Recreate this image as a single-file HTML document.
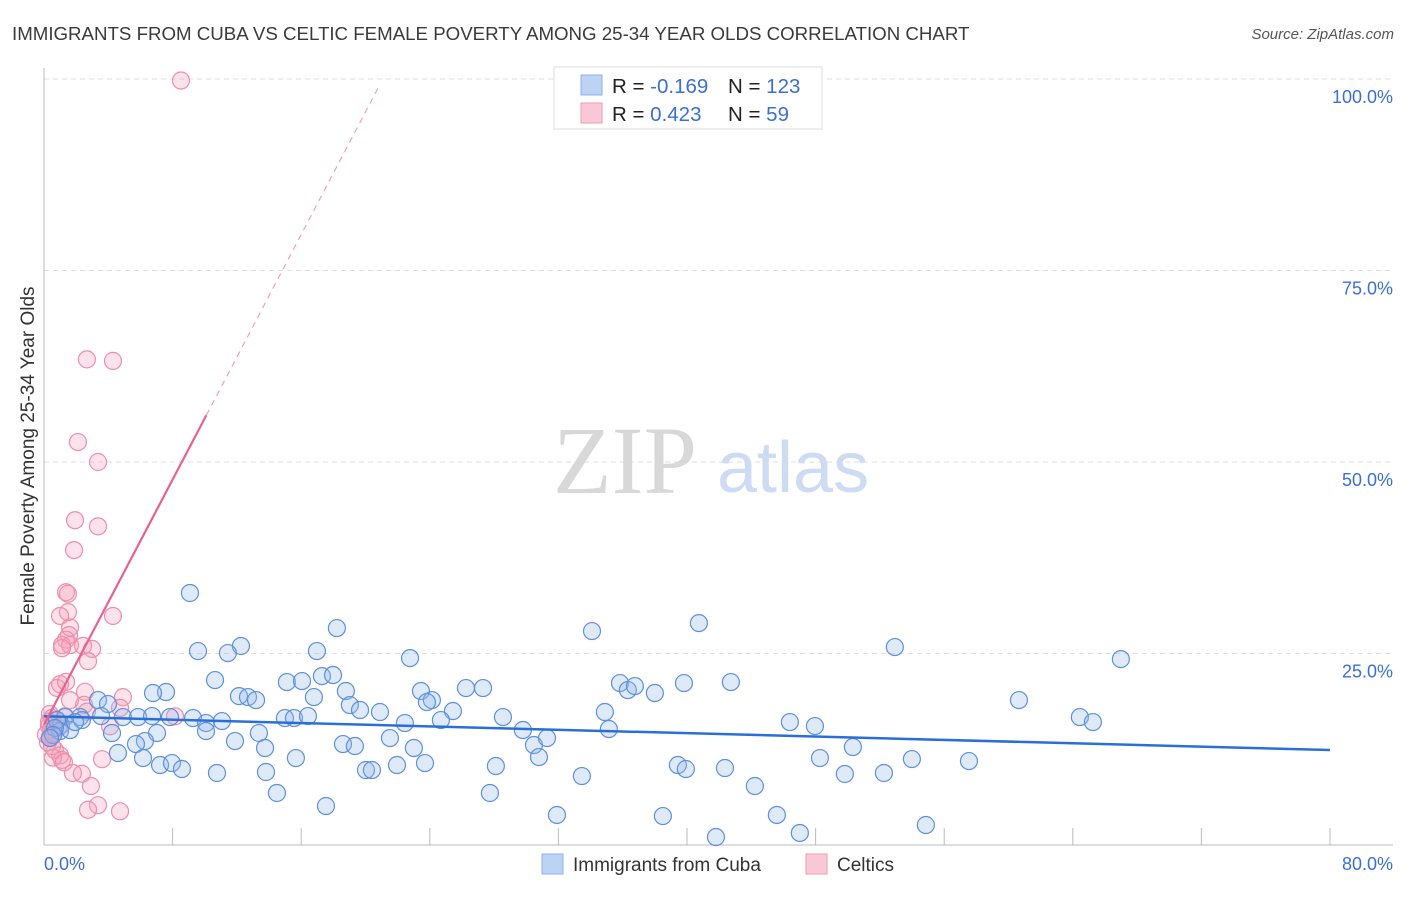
<!DOCTYPE html>
<html><head><meta charset="utf-8"><style>
body{margin:0;background:#fff;font-family:"Liberation Sans",sans-serif}
</style></head><body>
<svg width="1406" height="892" xmlns="http://www.w3.org/2000/svg" style="font-family:'Liberation Sans',sans-serif">
<text x="12" y="40" font-size="18.7" fill="#3a3a3a">IMMIGRANTS FROM CUBA VS CELTIC FEMALE POVERTY AMONG 25-34 YEAR OLDS CORRELATION CHART</text>
<text x="1394" y="39" font-size="15" fill="#555" font-style="italic" text-anchor="end">Source: ZipAtlas.com</text>
<g id="grid"></g>
<g>
<text x="553" y="493" font-size="96" font-family="'Liberation Serif',serif" fill="#d8d8d8">ZIP</text>
<text x="717" y="492" font-size="72" fill="#cddcf2">atlas</text>
</g>
<line x1="44" y1="68" x2="44" y2="845" stroke="#bbb"/>
<line x1="44" y1="845" x2="1393" y2="845" stroke="#bbb"/>
<g id="ticks"></g>
<g id="pts"></g>
<g id="trend"></g>
<text x="28" y="462" font-size="19" fill="#333" text-anchor="middle" transform="rotate(-90 28 456)">Female Poverty Among 25-34 Year Olds</text>
<text x="44" y="870" font-size="18" fill="#3b6fd4">0.0%</text>
<text x="1393" y="870" font-size="18" fill="#3b6fd4" text-anchor="end">80.0%</text>
<g>
<rect x="554" y="67" width="268" height="62" fill="#fff" stroke="#ddd"/>
<rect x="581" y="75" width="21" height="20" fill="#bcd3f5" stroke="#8fb2e8"/>
<rect x="581" y="103" width="21" height="20" fill="#fac8d6" stroke="#ef9bb5"/>
<text x="612" y="93" font-size="20.5" fill="#222">R = <tspan fill="#3b6fd4">-0.169</tspan></text>
<text x="728" y="93" font-size="20.5" fill="#222">N = <tspan fill="#3b6fd4">123</tspan></text>
<text x="612" y="121" font-size="20.5" fill="#222">R = <tspan fill="#3b6fd4"> 0.423</tspan></text>
<text x="728" y="121" font-size="20.5" fill="#222">N = <tspan fill="#3b6fd4"> 59</tspan></text>
</g>
<g>
<rect x="542" y="854" width="21" height="20" fill="#bcd3f5" stroke="#8fb2e8"/>
<text x="573" y="871" font-size="19" fill="#333">Immigrants from Cuba</text>
</g>
<g>
<rect x="806" y="854" width="21" height="20" fill="#fac8d6" stroke="#ef9bb5"/>
<text x="837" y="871" font-size="19" fill="#333">Celtics</text>
</g>
</svg>
<script>
const yTicks=[25,50,75,100];
const yTickLabels=["25.0%","50.0%","75.0%","100.0%"];
const xTicks=[0,8,16,24,32,40,48,56,64,72,80];
const cubaX=[9.08,12.25,18.22,34.09,40.74,52.93,66.99,9.58,11.44,16.98,22.77,10.64,7.59,6.78,12.13,12.69,13.19,15.11,16.05,17.29,17.98,16.79,18.78,19.03,19.66,20.90,23.45,24.13,23.82,26.25,27.31,25.44,22.45,24.69,28.55,29.79,30.48,31.29,30.79,33.46,31.91,34.89,35.14,35.83,36.32,36.76,38.00,39.81,42.73,39.43,39.93,42.36,44.22,38.50,41.80,45.59,47.02,46.40,47.96,48.27,49.82,50.32,52.25,53.99,54.86,57.54,60.65,64.44,65.25,3.36,3.98,4.91,5.85,6.72,7.03,4.23,2.24,2.36,3.55,1.31,1.06,1.00,1.62,6.28,5.72,4.60,6.16,7.22,7.96,8.58,10.76,9.27,10.08,10.08,11.88,13.37,13.75,15.67,13.81,14.49,17.54,18.60,19.34,20.03,20.40,21.52,21.96,23.01,23.70,28.11,27.74,14.99,15.55,16.42,11.07,7.84,1.93,0.81,0.68,0.56,0.37];
const cubaY=[32.9,25.98,28.32,27.93,28.97,25.84,24.27,25.32,25.06,25.32,24.40,21.53,19.97,19.84,19.44,19.31,18.92,21.27,21.40,22.05,22.19,19.31,20.10,18.27,17.62,17.36,20.10,18.92,18.66,20.49,20.49,17.49,15.92,16.31,16.70,15.01,13.05,13.96,11.48,9.00,3.92,17.36,15.14,21.14,20.23,20.75,19.84,21.14,21.27,10.44,9.92,10.05,7.70,3.78,1.04,3.92,1.57,16.05,15.53,11.35,9.27,12.79,9.40,11.22,2.61,10.96,18.92,16.70,16.05,18.92,18.40,16.70,16.70,16.83,14.62,14.62,16.70,16.31,16.83,16.70,15.66,14.88,15.01,13.57,13.18,12.01,11.35,10.44,10.70,9.92,9.40,16.57,15.92,14.88,13.57,14.62,12.66,11.35,9.53,6.79,5.09,13.18,12.92,9.79,9.79,13.96,10.44,12.66,10.70,10.31,6.79,16.57,16.57,16.83,16.18,16.70,16.05,16.31,15.27,14.36,13.96];
const celtX=[8.52,2.67,4.29,2.11,3.36,1.93,3.36,1.87,1.37,1.49,1.49,1.00,1.62,4.29,1.56,1.37,1.12,1.62,2.43,1.12,2.99,2.74,0.81,1.00,1.37,2.55,2.49,4.91,4.73,2.67,8.15,4.11,0.37,0.50,0.75,0.56,0.31,0.44,0.62,0.37,0.25,0.50,0.68,1.00,1.12,0.56,1.24,3.61,1.80,2.36,2.92,3.36,2.74,4.73,0.31,0.87,0.12,1.31,1.62];
const celtY=[99.8,63.4,63.2,52.6,50.0,42.4,41.6,38.5,33.0,32.8,30.4,29.9,28.4,29.9,27.4,26.8,26.1,26.1,26.0,25.7,25.6,24.0,20.5,21.0,21.3,20.0,18.3,19.3,17.9,17.4,16.8,15.5,17.1,16.6,16.3,15.8,15.5,15.0,14.6,14.1,13.4,12.9,12.4,11.7,11.1,11.4,10.8,11.2,9.4,9.3,7.7,5.2,4.6,4.4,16.1,15.3,14.4,16.8,18.9];
const cubaTrend=[16.8,-0.055];
const celtTrend=[15.7,4.0];
const NS="http://www.w3.org/2000/svg";
const sx=v=>44+v*(1330-44)/80;
const sy=v=>845-v*(845-79)/100;
function mk(t,a,p){const e=document.createElementNS(NS,t);for(const k in a)e.setAttribute(k,a[k]);p.appendChild(e);return e;}
const grid=document.getElementById('grid');
yTicks.forEach((t,i)=>{
 const l=mk('line',{x1:44,x2:1393,y1:sy(t),y2:sy(t),stroke:'#ddd','stroke-dasharray':'5,4'},grid);
 
 
 const tx=mk('text',{x:1393,y:sy(t)+24,'font-size':18,fill:'#3b6fd4','text-anchor':'end'},grid);
 tx.textContent=yTickLabels[i];
 
 
});
const ticks=document.getElementById('ticks');
xTicks.forEach(t=>{
 const l=mk('line',{x1:sx(t),x2:sx(t),y1:828,y2:845,stroke:'#bbb'},ticks);
 
 
});
const pts=document.getElementById('pts');
celtX.forEach((x,i)=>{
 const c=mk('circle',{cx:sx(x),cy:sy(celtY[i]),r:8.5,fill:'rgba(244,160,187,0.3)',stroke:'#ec8fab','stroke-width':1.2},pts);
 
 
});
cubaX.forEach((x,i)=>{
 const c=mk('circle',{cx:sx(x),cy:sy(cubaY[i]),r:8.5,fill:'rgba(150,186,236,0.3)',stroke:'#5d90dc','stroke-width':1.2},pts);
 
 
});
const tr=document.getElementById('trend');
const b=mk('line',{x1:sx(0),y1:sy(cubaTrend[0]),x2:sx(80),y2:sy(cubaTrend[0]+cubaTrend[1]*80),stroke:'#2a6fd8','stroke-width':2.5},tr);


const p1=mk('line',{x1:sx(0),y1:sy(celtTrend[0]),x2:sx(10.1),y2:sy(celtTrend[0]+celtTrend[1]*10.1),stroke:'#e8628e','stroke-width':2.2},tr);


const p2=mk('line',{x1:sx(10.1),y1:sy(celtTrend[0]+celtTrend[1]*10.1),x2:sx(20.8),y2:sy(celtTrend[0]+celtTrend[1]*20.8),stroke:'#eea0b8','stroke-width':1.2,'stroke-dasharray':'6,5'},tr);


</script>
</body></html>
